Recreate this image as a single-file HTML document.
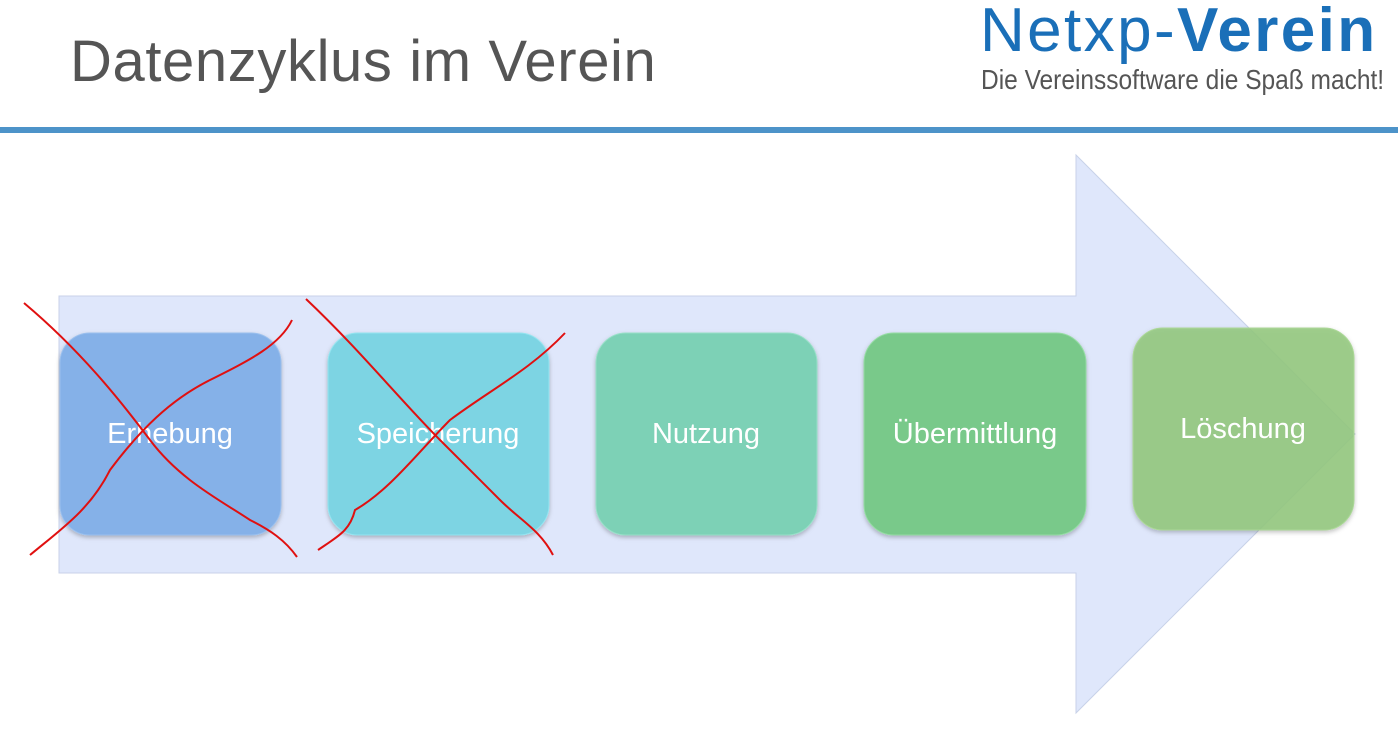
<!DOCTYPE html>
<html><head><meta charset="utf-8"><style>
body{margin:0;width:1398px;height:737px;background:#fff;position:relative;overflow:hidden;font-family:"Liberation Sans",sans-serif}
.t{position:absolute;left:70px;top:28px;font-size:58px;color:#555;letter-spacing:0.6px}
.bar{position:absolute;left:0;top:127px;width:1398px;height:6px;background:#4d93c9}
.l1{position:absolute;left:980px;top:-5px;font-size:62px;color:#1a6fb8;letter-spacing:2.4px;white-space:nowrap}
.l2{position:absolute;left:981px;top:64px;font-size:28px;color:#555;transform:scaleX(0.875);transform-origin:left;white-space:nowrap}
</style></head><body>
<div class="t">Datenzyklus im Verein</div>
<div class="l1">Netxp-<b>Verein</b></div>
<div class="l2">Die Vereinssoftware die Spaß macht!</div>
<div class="bar"></div>
<svg width="1398" height="737" style="position:absolute;left:0;top:0">
<defs><filter id="s"><feDropShadow dx="0" dy="2" stdDeviation="2" flood-opacity="0.25"/></filter></defs>
<polygon points="59,296 1076,296 1076,155 1355,434 1076,713 1076,573 59,573" fill="#dfe7fb" stroke="#c8d2e8" stroke-width="1"/>
<g filter="url(#s)">
<rect x="60" y="333" width="221" height="202" rx="30" fill="#85b1e8" stroke="#9bc0ee"/>
<rect x="328" y="333" width="221" height="202" rx="30" fill="#7dd4e3" stroke="#95e4f0"/>
<rect x="596" y="333" width="221" height="202" rx="30" fill="#7dd1b6" stroke="#98e0c8"/>
<rect x="864" y="333" width="222" height="202" rx="30" fill="#79c98a" stroke="#95dca4"/>
<rect x="1133" y="328" width="221" height="202" rx="30" fill="#94c87e" fill-opacity="0.88" stroke="#acd898"/>
</g>
<g font-size="29" fill="#fff" text-anchor="middle" font-family="Liberation Sans, sans-serif">
<text x="170" y="443">Erhebung</text>
<text x="438" y="443">Speicherung</text>
<text x="706" y="443">Nutzung</text>
<text x="975" y="443">Übermittlung</text>
<text x="1243" y="438">Löschung</text>
</g>
<g fill="none" stroke="#e01010" stroke-width="2">
<path d="M24,303 C80,350 120,400 150,440 C180,480 220,500 250,520 C270,530 285,540 297,557"/>
<path d="M30,555 C60,530 90,510 110,470 C140,430 170,400 210,380 C250,360 280,345 292,320"/>
<path d="M306,299 C360,350 400,400 440,440 C470,470 480,480 500,500 C520,520 540,530 553,555"/>
<path d="M318,550 C340,535 350,530 355,510 C390,490 420,450 450,420 C490,390 530,370 565,333"/>
</g>
</svg>
</body></html>
